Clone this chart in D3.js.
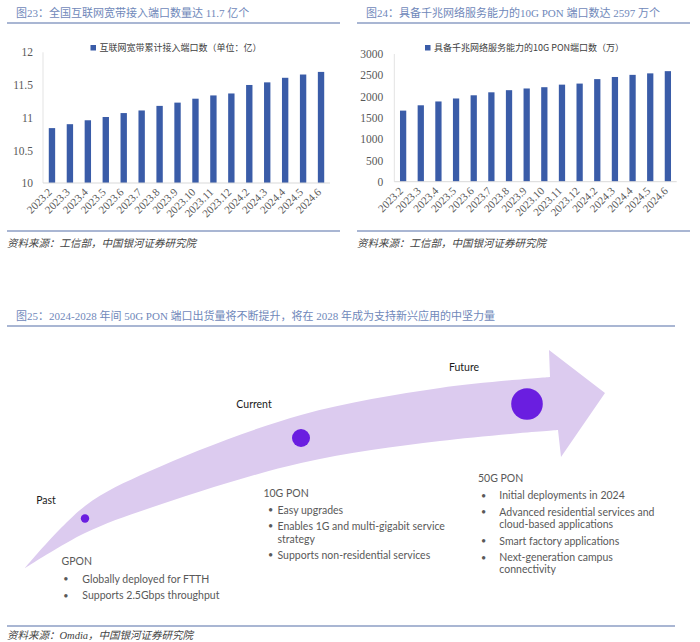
<!DOCTYPE html>
<html><head><meta charset="utf-8">
<script src="https://cdn.jsdelivr.net/npm/d3@7"></script>
<style>
html,body{margin:0;padding:0;background:#fff;}
svg{display:block;}
</style></head>
<body>
<script>
// ---------- DATA ----------
const months = ["2023.2","2023.3","2023.4","2023.5","2023.6","2023.7","2023.8","2023.9","2023.10","2023.11","2023.12","2024.2","2024.3","2024.4","2024.5","2024.6"];
const broadbandPorts = [10.84,10.90,10.96,11.01,11.07,11.11,11.18,11.23,11.29,11.34,11.37,11.50,11.54,11.61,11.66,11.70];
const ponPorts = [1670,1795,1885,1955,2030,2100,2150,2190,2220,2280,2305,2410,2460,2510,2545,2597];
const ticksLeft = [10,10.5,11,11.5,12];
const ticksRight = [0,500,1000,1500,2000,2500,3000];

const title23 = "图23：全国互联网宽带接入端口数量达 11.7 亿个";
const title24 = "图24：具备千兆网络服务能力的10G PON 端口数达 2597 万个";
const title25 = "图25：2024-2028 年间 50G PON 端口出货量将不断提升，将在 2028 年成为支持新兴应用的中坚力量";
const legend23 = "互联网宽带累计接入端口数（单位：亿）";
const legend24 = "具备千兆网络服务能力的10G PON端口数（万）";
const source1 = "资料来源：工信部，中国银河证券研究院";
const source2 = "资料来源：Omdia，中国银河证券研究院";

const stageNames = ["Past","Current","Future"];
const stageSizes = [1,2.2,3.9];
const techNames = ["GPON","10G PON","50G PON"];
const techBullets = [
  [["Globally deployed for FTTH"],["Supports 2.5Gbps throughput"]],
  [["Easy upgrades"],["Enables 1G and multi-gigabit service","strategy"],["Supports non-residential services"]],
  [["Initial deployments in 2024"],["Advanced residential services and","cloud-based applications"],["Smart factory applications"],["Next-generation campus","connectivity"]]
];

// ---------- STYLE ----------
const W = 700, H = 642;
const titleColor = "#6f88ba", ruleColor = "#8d9ec4", barColor = "#3a5ca8";
const cjk = "'Noto Sans CJK SC', sans-serif";
const serifCjk = "'Liberation Serif', 'Noto Sans CJK SC', serif";
const serif = "'Liberation Serif', 'Times New Roman', serif";
const sans = "Lato, 'Open Sans', sans-serif";

const svg = d3.select("body").append("svg").attr("width", W).attr("height", H);
svg.append("rect").attr("width", W).attr("height", H).attr("fill", "#fff");

function header(x0, x1, y, text, tx){
  svg.append("text").attr("x", tx).attr("y", y).attr("dy","0.35em")
    .attr("font-family", serifCjk).attr("font-size", 11).attr("fill", titleColor).text(text);
  svg.append("line").attr("x1", x0).attr("x2", x1).attr("y1", y+10).attr("y2", y+10)
    .attr("stroke", ruleColor).attr("stroke-width", 1.5);
}
function footer(x0, x1, y, text, gap){
  svg.append("line").attr("x1", x0).attr("x2", x1).attr("y1", y).attr("y2", y)
    .attr("stroke", ruleColor).attr("stroke-width", 1.5);
  svg.append("text").attr("x", x0).attr("y", y+gap).attr("dy","0.35em")
    .attr("font-family", serifCjk).attr("font-style","italic").attr("font-size", 10.5).attr("fill", "#444").text(text);
}

function barChart(cfg){
  const g = svg.append("g");
  const x = d3.scaleBand().domain(months).range([cfg.x0, cfg.x1]).paddingInner(0.645).paddingOuter(0.3225);
  const y = d3.scaleLinear().domain(cfg.domain).range([cfg.yb, cfg.yt]);
  g.append("line").attr("x1", cfg.x0).attr("x2", cfg.x0).attr("y1", cfg.yt).attr("y2", cfg.yb)
    .attr("stroke", "#e3e3e3").attr("stroke-width", 1);
  g.selectAll("rect.bar").data(cfg.values).join("rect").attr("class","bar")
    .attr("x", (d,i)=>x(months[i])).attr("width", x.bandwidth())
    .attr("y", d=>y(d)).attr("height", d=>y(cfg.domain[0])-y(d)).attr("fill", barColor);
  g.append("line").attr("x1", cfg.x0).attr("x2", cfg.x1).attr("y1", cfg.yb).attr("y2", cfg.yb)
    .attr("stroke", "#d9d9d9").attr("stroke-width", 1);
  const ya = g.append("g").attr("transform", `translate(${cfg.x0},0)`)
    .call(d3.axisLeft(y).tickValues(cfg.ticks).tickSize(0).tickPadding(cfg.tp).tickFormat(d=>String(d)));
  ya.select(".domain").remove();
  ya.selectAll("text").attr("font-family", serif).attr("font-size", 11.5).attr("fill", "#595959");
  const xa = g.append("g").attr("transform", `translate(0,${cfg.yb})`)
    .call(d3.axisBottom(x).tickSize(0).tickPadding(0));
  xa.select(".domain").remove();
  xa.selectAll("text").attr("font-family", serif).attr("font-size", 11).attr("fill", "#595959")
    .attr("text-anchor","end").attr("dy", null).attr("y", 0)
    .attr("transform", "translate(-1,8) rotate(-45)").attr("dominant-baseline","middle");
  g.append("rect").attr("x", cfg.lx).attr("y", 45).attr("width", 5.5).attr("height", 5.5).attr("fill", barColor);
  g.append("text").attr("x", cfg.lx+9).attr("y", 48).attr("dy","0.35em")
    .attr("font-family", cjk).attr("font-size", 9).attr("fill", "#404040").text(cfg.legend);
}

header(7, 340, 13, title23, 16);
header(357, 690, 13, title24, 366);
barChart({x0:43, x1:330, yt:52.3, yb:183, domain:[10,12], values:broadbandPorts, ticks:ticksLeft, tp:10, lx:90.5, legend:legend23});
barChart({x0:394.3, x1:676.7, yt:54, yb:181.7, domain:[0,3000], values:ponPorts, ticks:ticksRight, tp:11, lx:425, legend:legend24});
footer(7, 340, 231, source1, 12);
footer(357, 690, 231, source1, 12);

// ---------- Figure 25 ----------
header(7, 675, 316, title25, 16);

const upper = [[25,568],[85,506],[150,471],[301,415],[440,388],[550,377]];
const lower = [[558,430],[440,441],[301,463],[150,508],[85,533],[25,568]];
const head = [[550,377],[549,350],[605,393],[561,457],[558,430]];
const curve = d3.line().curve(d3.curveCatmullRom.alpha(0.5));
const lowerRest = curve(lower).replace(/^M[-\d.]+,[-\d.]+/, "");
svg.append("path")
  .attr("d", curve(upper) + head.slice(1).map(p=>"L"+p[0]+","+p[1]).join("") + lowerRest + "Z")
  .attr("fill", "#dccbef");

const stagePos = [[85,518.5],[301,438],[527,404]];
const labelPos = [[46,500],[254,404],[464,367.5]];
const rScale = d3.scaleLinear().domain([1,3.9]).range([4.2,15.8]);
svg.selectAll("circle.stage").data(stageSizes).join("circle").attr("class","stage")
  .attr("cx",(d,i)=>stagePos[i][0]).attr("cy",(d,i)=>stagePos[i][1]).attr("r", d=>rScale(d))
  .attr("fill", "#6a1ee0");
svg.selectAll("text.stage").data(stageNames).join("text").attr("class","stage")
  .attr("x",(d,i)=>labelPos[i][0]).attr("y",(d,i)=>labelPos[i][1]).attr("dy","0.35em")
  .attr("text-anchor","middle").attr("font-family", sans).attr("font-size", 10.5).attr("fill","#1a1a1a").text(d=>d);

const blocks = [
  {tx:61.5, ty:561.7, bx:63.3, txt:82.3, ys:[[579],[595.7]]},
  {tx:263.4, ty:493, bx:268, txt:277.5, ys:[[510],[526,539],[555]]},
  {tx:478, ty:478.3, bx:481, txt:499.3, ys:[[495.5],[512.3,524.3],[541],[557.7,569.3]]}
];
techNames.forEach((name,k)=>{
  const b = blocks[k];
  svg.append("text").attr("x", b.tx).attr("y", b.ty).attr("dy","0.35em")
    .attr("font-family", sans).attr("font-size", 10.5).attr("fill","#595959").text(name);
  techBullets[k].forEach((lines,j)=>{
    svg.append("text").attr("x", b.bx).attr("y", b.ys[j][0]).attr("dy","0.35em")
      .attr("font-family", sans).attr("font-size", 9).attr("fill","#595959").text("•");
    lines.forEach((ln,m)=>{
      svg.append("text").attr("x", b.txt).attr("y", b.ys[j][m]).attr("dy","0.35em")
        .attr("font-family", sans).attr("font-size", 10.5).attr("fill","#595959").text(ln);
    });
  });
});

footer(7, 675, 626, source2, 9.5);
</script>
</body></html>
